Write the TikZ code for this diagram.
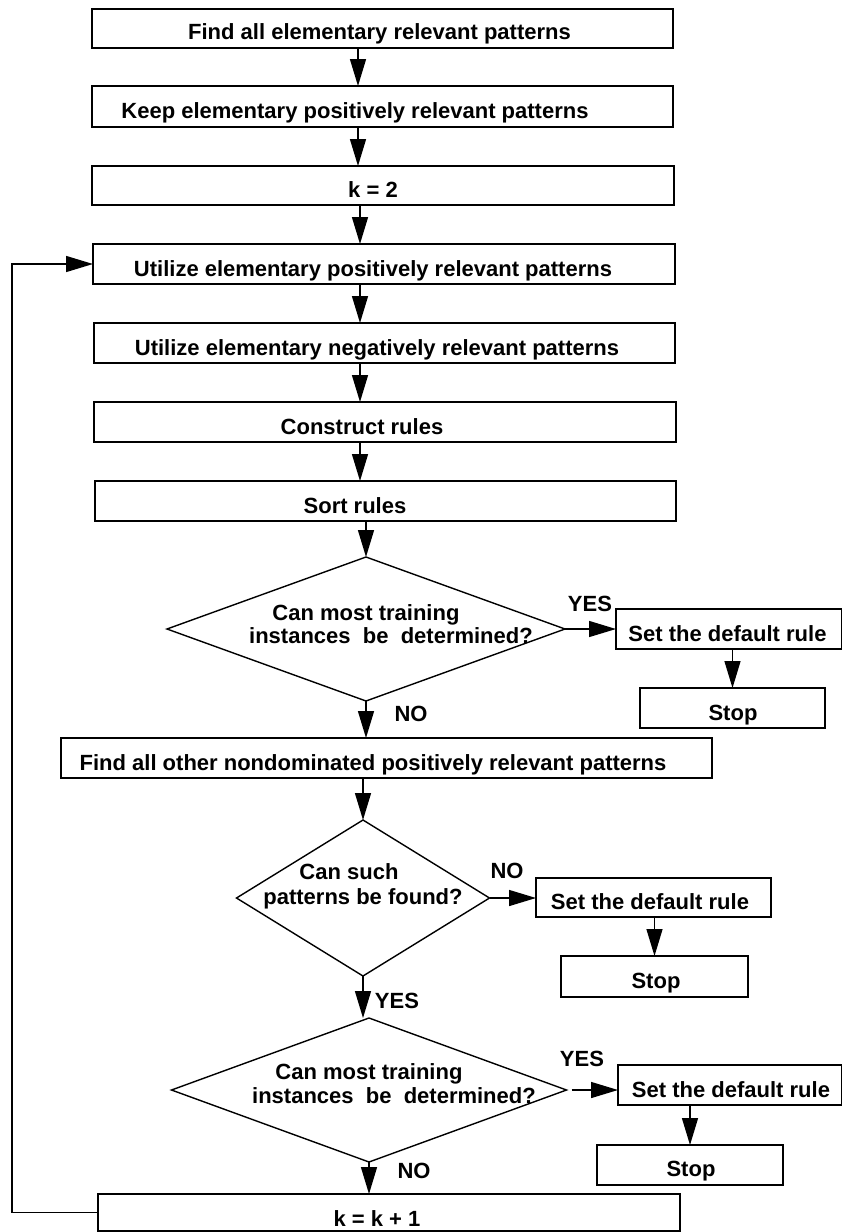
\documentclass[tikz,border=0pt]{standalone}
\usepackage{fontspec}
\setmainfont{Liberation Sans}
\usetikzlibrary{arrows.meta,shapes.geometric}
\tikzset{
  box/.style={draw, rectangle, line width=1.4pt, inner sep=0pt, outer sep=0pt},
  dia/.style={draw, diamond, line width=1.4pt, inner sep=0pt, outer sep=0pt},
  txt/.style={inner sep=0pt, anchor=base, font=\fontsize{22}{26}\selectfont\bfseries},
  arr/.style={line width=1.4pt, -{Triangle[length=27pt,width=16pt]}},
  lnk/.style={line width=1.4pt}
}
\begin{document}
\begin{tikzpicture}[x=1pt,y=-1pt]
\fill[white] (0,0) rectangle (841,1232);
\useasboundingbox (0,0) rectangle (841,1232);
% main column boxes
\node[box, minimum width=581pt, minimum height=39pt] (b1) at (382.5,28.5) {};
\node[box, minimum width=581pt, minimum height=41pt] (b2) at (382.5,106.5) {};
\node[box, minimum width=582pt, minimum height=39pt] (b3) at (383,185.5) {};
\node[box, minimum width=582pt, minimum height=40pt] (b4) at (384,264) {};
\node[box, minimum width=581pt, minimum height=40pt] (b5) at (384.5,343) {};
\node[box, minimum width=582pt, minimum height=40pt] (b6) at (385,422) {};
\node[box, minimum width=581pt, minimum height=40pt] (b7) at (385.5,501) {};
\node[dia, minimum width=398pt, minimum height=144pt] (d1) at (366,629) {};
\node[box, minimum width=651pt, minimum height=40pt] (b9) at (386.5,758) {};
\node[dia, minimum width=253pt, minimum height=156pt] (d2) at (363,898) {};
\node[dia, minimum width=395pt, minimum height=144pt] (d3) at (369,1090) {};
\node[box, minimum width=582pt, minimum height=37pt] (bk) at (389,1212.5) {};
% side boxes
\node[box, minimum width=226pt, minimum height=40pt] (sA) at (729,629) {};
\node[box, minimum width=185pt, minimum height=40pt] (stA) at (732.5,708) {};
\node[box, minimum width=235pt, minimum height=39pt] (sB) at (653.5,897.5) {};
\node[box, minimum width=187pt, minimum height=41pt] (stB) at (654.5,976.5) {};
\node[box, minimum width=224pt, minimum height=40pt] (sC) at (730,1085) {};
\node[box, minimum width=186pt, minimum height=40pt] (stC) at (690,1165) {};
% texts
\node[txt] (t1) at (379.5,39) {Find all elementary relevant patterns};
\node[txt] (t2) at (355,118) {Keep elementary positively relevant patterns};
\node[txt] (t3) at (373,197) {k = 2};
\node[txt] (t4) at (373,276) {Utilize elementary positively relevant patterns};
\node[txt] (t5) at (377,355) {Utilize elementary negatively relevant patterns};
\node[txt] (t6) at (362,434) {Construct rules};
\node[txt] (t7) at (355,513) {Sort rules};
\node[txt] (d1a) at (366,620) {Can most training};
\node[txt] (d1b) at (391,643) {instances~~be~~determined?};
\node[txt] (tsA) at (727.5,641) {Set the default rule};
\node[txt] (tstA) at (733,720) {Stop};
\node[txt] (yes1) at (590,611) {YES};
\node[txt] (no1) at (411,721) {NO};
\node[txt] (t9) at (373,770) {Find all other nondominated positively relevant patterns};
\node[txt] (d2a) at (349,879) {Can such};
\node[txt] (d2b) at (363,904) {patterns be found?};
\node[txt] (no2) at (507,878) {NO};
\node[txt] (tsB) at (650,909) {Set the default rule};
\node[txt] (tstB) at (656,988) {Stop};
\node[txt] (yes2) at (397,1008) {YES};
\node[txt] (d3a) at (369,1079) {Can most training};
\node[txt] (d3b) at (394,1103) {instances~~be~~determined?};
\node[txt] (yes3) at (582,1066) {YES};
\node[txt] (tsC) at (731,1097) {Set the default rule};
\node[txt] (tstC) at (691,1176) {Stop};
\node[txt] (no3) at (414,1178) {NO};
\node[txt] (tk) at (377,1226) {k = k + 1};
% column coordinates
\coordinate (cA) at (358,0);
\coordinate (cB) at (360,0);
\coordinate (loopx) at (12,0);
% connectors
\draw[arr] (cA |- b1.south) -- (cA |- b2.north);
\draw[arr] (cA |- b2.south) -- (cA |- b3.north);
\draw[arr] (cB |- b3.south) -- (cB |- b4.north);
\draw[arr] (cB |- b4.south) -- (cB |- b5.north);
\draw[arr] (cB |- b5.south) -- (cB |- b6.north);
\draw[arr] (cB |- b6.south) -- (cB |- b7.north);
\draw[arr] (d1.north |- b7.south) -- (d1.north);
\draw[arr] (d1.south) -- (d1.south |- b9.north);
\draw[arr] (d2.north |- b9.south) -- (d2.north);
\draw[arr] (d2.south) -- (d2.south |- d3.north);
\draw[arr] (d3.south) -- (d3.south |- bk.north);
\draw[arr] (d1.east) -- (d1.east -| sA.west);
\draw[arr] (d2.east) -- (d2.east -| sB.west);
\draw[arr] ([xshift=5pt]d3.east) -- (d3.east -| sC.west);
\draw[arr] (stA.north |- sA.south) -- (stA.north);
\draw[arr] (stB.north |- sB.south) -- (stB.north);
\draw[arr] (stC.north |- sC.south) -- (stC.north);
\draw[arr] (bk.west) -- (bk.west -| loopx) |- (b4.west);
\end{tikzpicture}
\end{document}
